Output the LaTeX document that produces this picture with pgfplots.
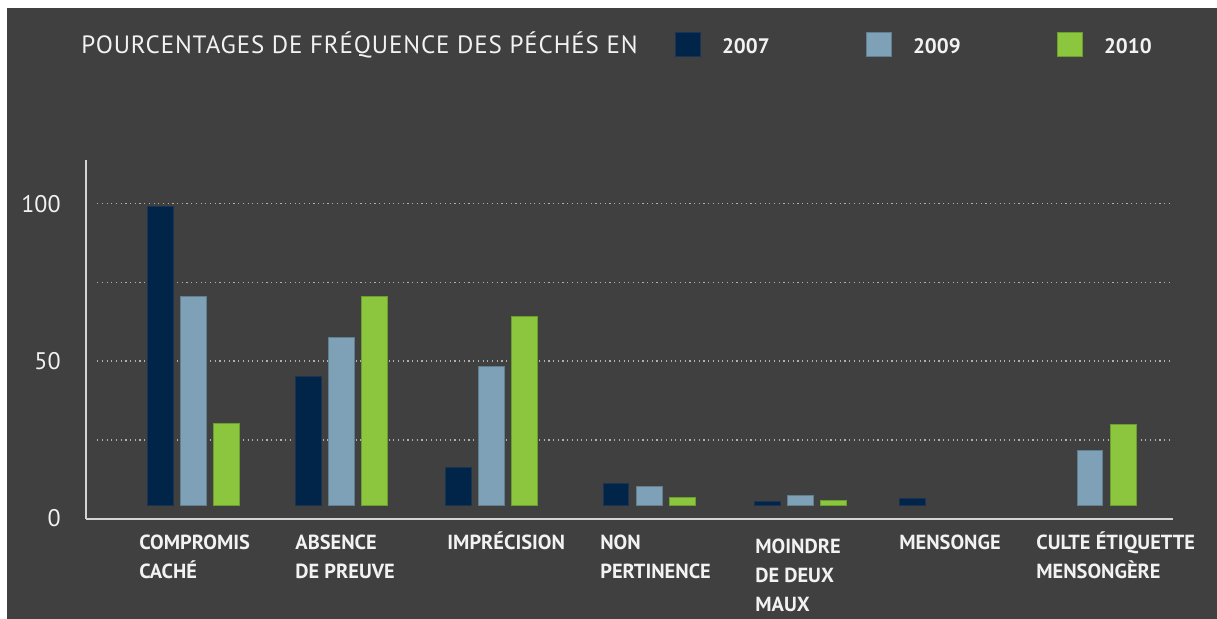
\documentclass[border=0pt]{standalone}
\usepackage{fontspec}
\setmainfont{PT Sans}
\usepackage{pgfplots}
\pgfplotsset{compat=1.18}
\pgfdeclarelayer{bglayer}
\pgfsetlayers{bglayer,main}
\definecolor{bg}{HTML}{404040}
\definecolor{navy}{HTML}{002549}
\definecolor{navyb}{HTML}{1A3352}
\definecolor{lblue}{HTML}{7FA1B7}
\definecolor{lblueb}{HTML}{61808F}
\definecolor{lgreen}{HTML}{8CC63F}
\definecolor{lgreenb}{HTML}{6C9E2E}
\definecolor{axcol}{HTML}{D4D4D4}
\definecolor{gridcol}{HTML}{B0B0B0}
\definecolor{txtcol}{HTML}{F2F2F2}
\newcommand\R{\rule{0pt}{10pt}}
\pgfplotsset{leg/.style={legend image code/.code={\draw[##1] (0pt,-4.35pt) rectangle (12.5pt,7.65pt);}}}
\tikzset{gridline/.style={draw=gridcol, line width=0.7pt, dash pattern=on 0.6pt off 1.75pt}}
\begin{document}
\begin{tikzpicture}[x=1pt,y=1pt]
\begin{axis}[
  scale only axis, width=543.5pt, height=179.3pt,
  xmin=-0.719, xmax=6.523, ymin=0, ymax=113.9,
  y coord trafo/.code={\pgfmathparse{#1-4.2}},
  y coord inv trafo/.code={\pgfmathparse{#1+4.2}},
  axis x line=bottom, axis y line=left, axis line style={-},
  x axis line style={draw=axcol, line width=1pt},
  y axis line style={draw=axcol, line width=0.7pt},
  major tick length=0pt,
  ytick={0,25,50,75,100}, yticklabels={0,,50,,100},
  xtick={-0.366,0.674,1.686,2.705,3.738,4.697,5.610},
  xticklabels={{\R COMPROMIS\\CACHÉ},{\R ABSENCE\\DE PREUVE},{\R IMPRÉCISION},{\R NON\\PERTINENCE},{\rule{0pt}{12pt}MOINDRE\\DE DEUX\\MAUX},{\R MENSONGE},{\R CULTE ÉTIQUETTE\\MENSONGÈRE}},
  xticklabel style={anchor=north west, align=left, inner sep=0pt, yshift=-5.2pt,
    font=\bfseries\fontsize{10.2}{14.5}\selectfont, text=txtcol},
  yticklabel style={anchor=east, inner sep=0pt, xshift=-12.5pt, font=\fontsize{12}{14}\selectfont, text=txtcol},
  /pgf/number format/assume math mode=true,
  ybar, bar width=0.173,
  legend columns=3, legend cell align=left,
  legend style={at={(0.5419,1.322)}, anchor=west, draw=none, fill=none, inner sep=0pt, outer sep=0pt,
    nodes={inner sep=0pt, text=txtcol, font=\bfseries\fontsize{10.5}{12}\selectfont},
    /tikz/every odd column/.append style={column sep=10.5pt}},
]
\coordinate (bl) at (rel axis cs:0,0);
\draw[gridline] (axis cs:-0.645,25) -- (axis cs:6.523,25);
\draw[gridline] (axis cs:-0.645,50) -- (axis cs:6.523,50);
\draw[gridline] (axis cs:-0.645,75) -- (axis cs:6.523,75);
\draw[gridline] (axis cs:-0.645,100) -- (axis cs:6.523,100);
\addplot[fill=navy, draw=navyb, line width=0.5pt, bar shift=-0.22, leg] coordinates {(0,99.1) (0.981,45.0) (1.985,16.1) (3.032,11.3) (4.039,5.4) (5.010,6.3)};
\addlegendentry{\makebox[72pt][l]{2007}}
\addplot[fill=lblue, draw=lblueb, line width=0.5pt, bar shift=0, leg] coordinates {(0,70.6) (0.981,57.6) (1.985,48.4) (3.032,10.3) (4.039,7.4) (5.970,21.6)};
\addlegendentry{\makebox[72pt][l]{2009}}
\addplot[fill=lgreen, draw=lgreenb, line width=0.5pt, bar shift=0.22, leg] coordinates {(0,30.1) (0.981,70.6) (1.985,64.2) (3.032,6.8) (4.039,5.8) (5.970,29.9)};
\addlegendentry{2010}
\end{axis}
\begin{pgfonlayer}{bglayer}
\fill[white] ([shift={(-43,-50.2)}]bl) rectangle ([shift={(565.5,259.3)}]bl);
\fill[bg] ([shift={(-39.5,-50.2)}]bl) rectangle ([shift={(565.5,255.3)}]bl);
\end{pgfonlayer}
\node[anchor=base west, inner sep=0pt, text=txtcol, font=\addfontfeatures{LetterSpace=3.5}\fontsize{12.5}{15}\selectfont] at ([shift={(-2.5,232.65)}]bl) {POURCENTAGES DE FRÉQUENCE DES PÉCHÉS EN};
\pgfresetboundingbox
\useasboundingbox ([shift={(-43,-50.2)}]bl) rectangle ([shift={(565.5,259.3)}]bl);
\end{tikzpicture}
\end{document}
